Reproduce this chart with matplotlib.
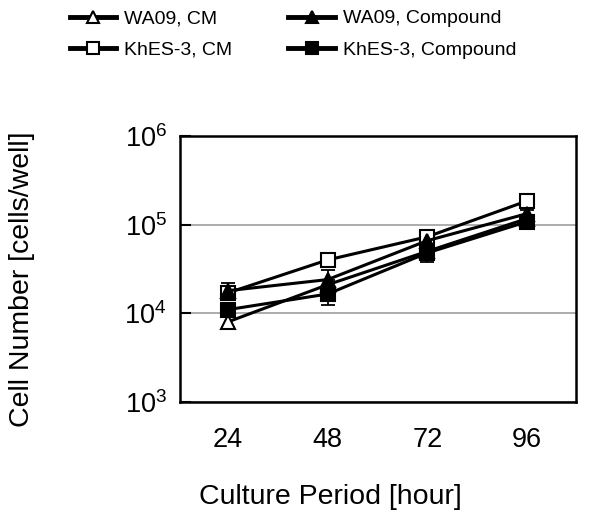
import numpy as np
import matplotlib
matplotlib.use('Agg')
import matplotlib.pyplot as plt

plt.rcParams['font.family'] = ['Liberation Sans', 'DejaVu Sans']
plt.rcParams['mathtext.fontset'] = 'custom'
plt.rcParams['mathtext.rm'] = 'Liberation Sans'

# data
periods = ['24', '48', '72', '96']
wa09_cm = [8.0e3, 2.1e4, 5.0e4, 1.17e5]
wa09_cm_err = [1.0e3, 3.0e3, 4.0e3, 1.0e4]
wa09_cmp = [1.8e4, 2.4e4, 6.6e4, 1.33e5]
wa09_cmp_err = [4.0e3, 7.0e3, 8.0e3, 1.5e4]
khes_cm = [1.7e4, 4.0e4, 7.3e4, 1.85e5]
khes_cm_err = [2.0e3, 3.0e3, 6.0e3, 1.0e4]
khes_cmp = [1.1e4, 1.65e4, 4.8e4, 1.08e5]
khes_cmp_err = [2.0e3, 4.0e3, 1.0e4, 1.5e4]

labels = ['WA09, CM', 'KhES-3, CM', 'WA09, Compound', 'KhES-3, Compound']
series = [wa09_cm, khes_cm, wa09_cmp, khes_cmp]
errs = [wa09_cm_err, khes_cm_err, wa09_cmp_err, khes_cmp_err]
markers = ['^', 's', '^', 's']
faces = ['white', 'white', 'black', 'black']

fig = plt.figure(figsize=(5.98, 5.32), dpi=100)
ax = fig.add_axes([0.301, 0.2444, 0.662, 0.5])

x = np.arange(len(periods))
handles = []
for y, e, m, fc, lab in zip(series, errs, markers, faces, labels):
    ax.errorbar(x, y, yerr=e, fmt='none', ecolor='black', elinewidth=1.3,
                capsize=5, capthick=1.3, zorder=3)
    h, = ax.plot(x, y, color='black', lw=2.2, marker=m, markersize=10,
                 markerfacecolor=fc, markeredgecolor='black', markeredgewidth=1.5,
                 zorder=4, label=lab)
    handles.append(h)

ax.set_yscale('log')
ax.set_ylim(1e3, 1e6)
ax.set_xlim(-0.48, 3.49)
ax.set_xticks(x)
ax.set_xticklabels(periods)
ax.set_yticks([1e3, 1e4, 1e5, 1e6])
ax.set_yticklabels([r'$\mathregular{10^{3}}$', r'$\mathregular{10^{4}}$',
                    r'$\mathregular{10^{5}}$', r'$\mathregular{10^{6}}$'])
ax.yaxis.set_minor_locator(matplotlib.ticker.NullLocator())
ax.tick_params(axis='y', direction='in', length=8, width=1.5, pad=9.5, labelsize=19.5)
ax.tick_params(axis='x', length=0, pad=18, labelsize=19.5)
ax.grid(axis='y', color='#a6a6a6', lw=1.3)
ax.set_axisbelow(True)
for sp in ax.spines.values():
    sp.set_linewidth(1.8)

# axis titles sit where the original chart put them
fig.text(330 / 598, 1 - 497 / 532, 'Culture Period [hour]', fontsize=20.5,
         ha='center', va='center')
fig.text(22 / 598, 1 - 279 / 532, 'Cell Number [cells/well]', fontsize=20.5,
         ha='center', va='center', rotation=90)

leg = fig.legend(handles=handles, loc='upper left', bbox_to_anchor=(0.1, 1.0),
                 ncol=2, frameon=False, fontsize=14, handlelength=2.4,
                 handletextpad=0.4, columnspacing=2.9, labelspacing=0.7,
                 borderaxespad=0.1)
for lh in leg.legend_handles:
    lh.set_linewidth(3.5)
    lh.set_markersize(9)

fig.savefig('out.png', dpi=100)
